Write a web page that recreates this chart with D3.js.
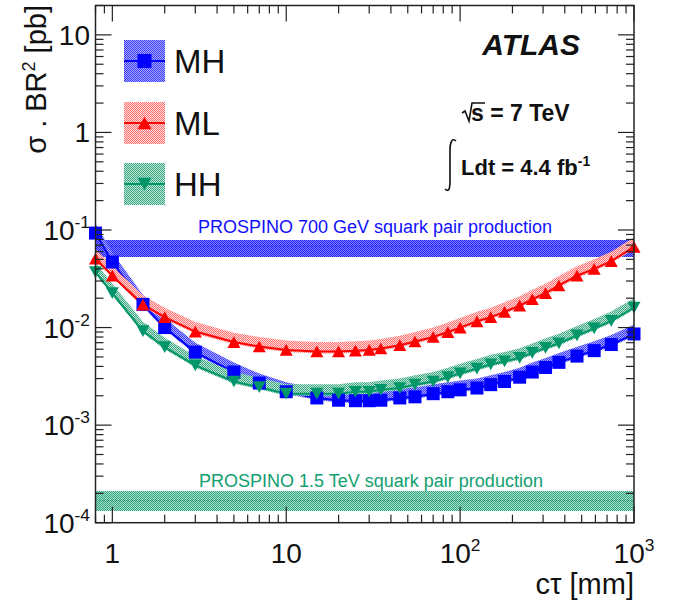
<!DOCTYPE html>
<html><head><meta charset="utf-8">
<script src="https://cdn.jsdelivr.net/npm/d3@7"></script>
<style>body{margin:0;background:#fff}svg{display:block;font-family:"Liberation Sans",Arial,sans-serif}</style>
</head><body><svg id="c" width="681" height="603"></svg>
<script>
// ---- data ----
const ctau = [0.8, 1, 1.5, 2, 3, 5, 7, 10, 15, 20, 25, 30, 35, 45, 55, 70, 85, 100, 125, 150, 180, 220, 260, 310, 370, 470, 590, 740, 1000];
const mhVals = [0.093, 0.047, 0.0173, 0.0100, 0.0056, 0.0035, 0.0027, 0.0022, 0.0019, 0.0018, 0.00178, 0.00178, 0.0018, 0.0019, 0.00195, 0.0021, 0.0022, 0.0023, 0.0024, 0.0026, 0.0028, 0.0031, 0.0035, 0.0039, 0.0044, 0.0051, 0.0058, 0.0067, 0.0086];
const mlVals = [0.051, 0.034, 0.0172, 0.0128, 0.0091, 0.0071, 0.0064, 0.0059, 0.0057, 0.0057, 0.0058, 0.0059, 0.0061, 0.0066, 0.0072, 0.0080, 0.0090, 0.0100, 0.0116, 0.0128, 0.0145, 0.0168, 0.0195, 0.0225, 0.027, 0.034, 0.040, 0.048, 0.067];
const hhVals = [0.037, 0.0225, 0.0092, 0.0063, 0.0041, 0.0028, 0.00245, 0.0021, 0.0021, 0.0021, 0.0022, 0.0022, 0.0023, 0.0024, 0.0026, 0.0028, 0.0031, 0.0034, 0.0038, 0.0042, 0.0045, 0.0049, 0.0055, 0.0062, 0.0069, 0.0083, 0.0098, 0.0117, 0.016];
const seriesNames = ["MH", "ML", "HH"];
const prospinoLabels = ["PROSPINO 700 GeV squark pair production", "PROSPINO 1.5 TeV squark pair production"];
const prospinoCentral = [0.068, 0.000168];
const prospinoLow = [0.053, 0.000131];
const prospinoHigh = [0.079, 0.00021];
const xMajor = [1, 10, 100, 1000];
const xMajorLabels = ["1", "10", "10^2", "10^3"];
const yMajor = [1e-4, 1e-3, 1e-2, 1e-1, 1, 10];
const yMajorLabels = ["10^-4", "10^-3", "10^-2", "10^-1", "1", "10"];

// ---- layout ----
const svg = d3.select("#c");
const L = 95.5, R = 634, T = 5.5, B = 522.7;
const x = d3.scaleLog().domain([0.8, 1000]).range([L, R]);
const y = d3.scaleLog().domain([1e-4, 20]).range([B, T]);
const colors = {MH: "#0000ff", ML: "#ff0000", HH: "#00966a"};
const defs = svg.append("defs");
function checker(id, color, bg, op) {
  const p = defs.append("pattern").attr("id", id).attr("width", 2).attr("height", 2).attr("patternUnits", "userSpaceOnUse");
  p.append("rect").attr("width", 2).attr("height", 2).attr("fill", bg).attr("fill-opacity", op);
  p.append("rect").attr("width", 1).attr("height", 1).attr("fill", color);
  p.append("rect").attr("x", 1).attr("y", 1).attr("width", 1).attr("height", 1).attr("fill", color);
}
checker("pMH", "#3a3aff", "#a8a8ff", 1);
checker("pML", "#ff7070", "#ffdada", 1);
checker("pHH", "#3aa880", "#c0e4d6", 1);
checker("pP0", "#2020ff", "#8080ff", 1);
checker("pP1", "#30a880", "#a8dcc8", 1);

const clip = defs.append("clipPath").attr("id", "plotclip");
clip.append("rect").attr("x", L).attr("y", T).attr("width", R - L).attr("height", B - T);
const g = svg.append("g").attr("clip-path", "url(#plotclip)");

// PROSPINO bands
[0, 1].forEach(i => {
  g.append("rect").attr("x", L).attr("width", R - L)
    .attr("y", y(prospinoHigh[i])).attr("height", y(prospinoLow[i]) - y(prospinoHigh[i]))
    .attr("fill", `url(#pP${i})`).attr("shape-rendering", "crispEdges");
  g.append("line").attr("x1", L).attr("x2", R).attr("y1", y(prospinoCentral[i])).attr("y2", y(prospinoCentral[i]))
    .attr("stroke", i === 0 ? "#0000cc" : "#007050").attr("stroke-width", 1).attr("stroke-dasharray", "1,3");
});
svg.append("text").attr("x", 375).attr("y", 233).attr("text-anchor", "middle").attr("font-size", 18)
  .attr("fill", "#1010ff").text(prospinoLabels[0]);
svg.append("text").attr("x", 371).attr("y", 487).attr("text-anchor", "middle").attr("font-size", 18)
  .attr("fill", "#10a070").text(prospinoLabels[1]);

// series
const data = {MH: mhVals, ML: mlVals, HH: hhVals};
function marker(sel, name, cx, cy, s) {
  if (name === "MH") {
    sel.append("rect").attr("x", cx - s / 2).attr("y", cy - s / 2).attr("width", s).attr("height", s).attr("fill", colors.MH);
  } else if (name === "ML") {
    const h = s * 0.9;
    sel.append("path").attr("d", `M${cx - s / 2},${cy + h / 2}L${cx + s / 2},${cy + h / 2}L${cx},${cy - h / 2}Z`).attr("fill", colors.ML);
  } else {
    const h = s * 0.9;
    sel.append("path").attr("d", `M${cx - s / 2},${cy - h / 2}L${cx + s / 2},${cy - h / 2}L${cx},${cy + h / 2}Z`).attr("fill", colors.HH);
  }
}
seriesNames.forEach(name => {
  const vals = data[name];
  const pts = ctau.map((c, i) => ({c, v: vals[i]}));
  const area = d3.area().x(d => x(d.c)).y0(d => y(d.v * 0.95)).y1(d => y(d.v * 1.25));
  g.append("path").datum(pts).attr("d", area).attr("fill", `url(#p${name})`);
  const line = d3.line().x(d => x(d.c)).y(d => y(d.v));
  g.append("path").datum(pts).attr("d", line).attr("fill", "none").attr("stroke", colors[name]).attr("stroke-width", 2);
});
const mg = svg.append("g");
seriesNames.forEach(name => {
  ctau.forEach((c, i) => marker(mg, name, x(c), y(data[name][i]), 13));
});

// frame
svg.append("rect").attr("x", L).attr("y", T).attr("width", R - L).attr("height", B - T)
  .attr("fill", "none").attr("stroke", "#222").attr("stroke-width", 1.5);

// ticks
const ax = svg.append("g").attr("stroke", "#222").attr("stroke-width", 1.2);
const xMinor = [];
[0.1, 1, 10, 100].forEach(d => { for (let k = 2; k <= 9; k++) { const v = d * k; if (v >= 0.8 && v <= 1000) xMinor.push(v); } });
xMinor.forEach(v => {
  ax.append("line").attr("x1", x(v)).attr("x2", x(v)).attr("y1", B).attr("y2", B - 8);
  ax.append("line").attr("x1", x(v)).attr("x2", x(v)).attr("y1", T).attr("y2", T + 8);
});
xMajor.forEach(v => {
  ax.append("line").attr("x1", x(v)).attr("x2", x(v)).attr("y1", B).attr("y2", B - 16);
  ax.append("line").attr("x1", x(v)).attr("x2", x(v)).attr("y1", T).attr("y2", T + 16);
});
const yMinor = [];
[1e-4, 1e-3, 1e-2, 1e-1, 1, 10].forEach(d => { for (let k = 2; k <= 9; k++) { const v = d * k; if (v <= 20) yMinor.push(v); } });
yMinor.forEach(v => {
  ax.append("line").attr("x1", L).attr("x2", L + 8).attr("y1", y(v)).attr("y2", y(v));
  ax.append("line").attr("x1", R).attr("x2", R - 8).attr("y1", y(v)).attr("y2", y(v));
});
yMajor.forEach(v => {
  ax.append("line").attr("x1", L).attr("x2", L + 16).attr("y1", y(v)).attr("y2", y(v));
  ax.append("line").attr("x1", R).attr("x2", R - 16).attr("y1", y(v)).attr("y2", y(v));
});

function powLabel(sel, str, fs) {
  const parts = str.split("^");
  sel.append("tspan").text(parts[0]);
  if (parts[1]) sel.append("tspan").attr("dy", -fs * 0.42).attr("font-size", fs * 0.62).text(parts[1]);
}
xMajor.forEach((v, i) => {
  const t = svg.append("text").attr("x", x(v)).attr("y", 563).attr("text-anchor", "middle").attr("font-size", 28).attr("fill", "#111");
  powLabel(t, xMajorLabels[i], 28);
});
yMajor.forEach((v, i) => {
  const t = svg.append("text").attr("x", 90).attr("y", y(v) + 10).attr("text-anchor", "end").attr("font-size", 28).attr("fill", "#111");
  powLabel(t, yMajorLabels[i], 28);
});

// axis titles
svg.append("text").attr("x", 634).attr("y", 594).attr("text-anchor", "end").attr("font-size", 29).attr("fill", "#111").text("cτ [mm]");
const yt = svg.append("text").attr("transform", "translate(46,5) rotate(-90)").attr("text-anchor", "end").attr("font-size", 29).attr("fill", "#111");
yt.append("tspan").text("σ . BR");
yt.append("tspan").attr("dy", -11).attr("font-size", 18).text("2");
yt.append("tspan").attr("dy", 11).text(" [pb]");

// legend
const legTop = [40, 102, 163];
seriesNames.forEach((name, i) => {
  const ly = legTop[i], lh = 42;
  svg.append("rect").attr("x", 124).attr("y", ly).attr("width", 41).attr("height", lh).attr("fill", `url(#p${name})`);
  svg.append("line").attr("x1", 124).attr("x2", 165).attr("y1", ly + lh / 2).attr("y2", ly + lh / 2).attr("stroke", colors[name]).attr("stroke-width", 2);
  marker(svg, name, 144.5, ly + lh / 2, 14);
  svg.append("text").attr("x", 174).attr("y", ly + lh / 2 + 12).attr("font-size", 33).attr("fill", "#111").text(name);
});

// ATLAS labels
svg.append("text").attr("x", 580).attr("y", 55).attr("text-anchor", "end").attr("font-size", 30)
  .attr("font-weight", "bold").attr("font-style", "italic").attr("fill", "#111").text("ATLAS");
svg.append("path").attr("d", "M462,113 L465,111 L469,121 L472,103 L485,103").attr("fill", "none").attr("stroke", "#111").attr("stroke-width", 1.6);
svg.append("text").attr("x", 471).attr("y", 121).attr("font-size", 23).attr("font-weight", "bold").attr("fill", "#111").text("s = 7 TeV");
svg.append("path").attr("d", "M456,141 C452,137 450,143 450,150 L450,181 C450,188 449,193 445,189").attr("fill", "none").attr("stroke", "#111").attr("stroke-width", 1.6);
const lt = svg.append("text").attr("x", 461).attr("y", 175).attr("font-size", 22).attr("font-weight", "bold").attr("fill", "#111");
lt.append("tspan").text("Ldt = 4.4 fb");
lt.append("tspan").attr("dy", -9).attr("font-size", 14).text("-1");
</script></body></html>
